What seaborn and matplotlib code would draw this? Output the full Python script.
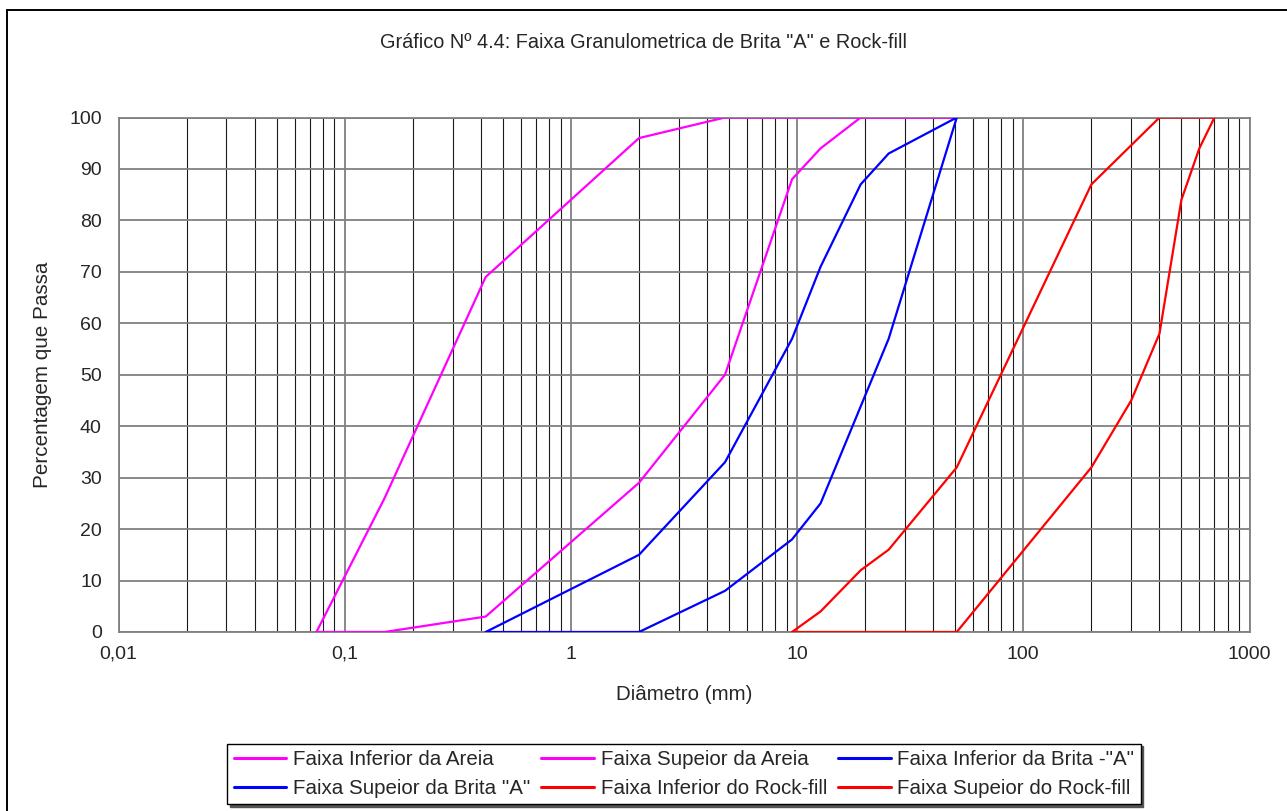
"""Faixa granulometrica de Brita "A" e Rock-fill (curvas em escala log)."""

import matplotlib
matplotlib.use("Agg")
import matplotlib.pyplot as plt
from matplotlib.patches import Rectangle
from matplotlib.ticker import FuncFormatter, LogLocator, NullFormatter
import pandas as pd
import seaborn as sns

W, H = 1287, 811

# diametros (mm) e percentagem que passa
areia_inf_d = [0.075, 0.15, 0.42, 2.0, 4.8, 9.5, 12.7, 19.1, 50.8]
areia_inf_p = [0, 0, 3, 29, 50, 88, 94, 100, 100]
areia_sup_d = [0.075, 0.15, 0.42, 2.0, 4.8, 50.8]
areia_sup_p = [0, 26, 69, 96, 100, 100]
brita_inf_d = [0.42, 2.0, 4.8, 9.5, 12.7, 25.4, 50.8]
brita_inf_p = [0, 0, 8, 18, 25, 57, 100]
brita_sup_d = [0.42, 2.0, 4.8, 9.5, 12.7, 19.1, 25.4, 50.8]
brita_sup_p = [0, 15, 33, 57, 71, 87, 93, 100]
rock_inf_d = [9.5, 50.8, 200, 300, 400, 500, 600, 700]
rock_inf_p = [0, 0, 32, 45, 58, 84, 94, 100]
rock_sup_d = [9.5, 12.7, 19.1, 25.4, 50.8, 200, 400, 700]
rock_sup_p = [0, 4, 12, 16, 32, 87, 100, 100]

series = [
    ('Faixa Inferior da Areia', areia_inf_d, areia_inf_p, '#FF00FF'),
    ('Faixa Supeior da Areia', areia_sup_d, areia_sup_p, '#FF00FF'),
    ('Faixa Inferior da Brita -"A"', brita_inf_d, brita_inf_p, '#0000FF'),
    ('Faixa Supeior da Brita "A"', brita_sup_d, brita_sup_p, '#0000FF'),
    ('Faixa Inferior do Rock-fill', rock_inf_d, rock_inf_p, '#FF0000'),
    ('Faixa Supeior do Rock-fill', rock_sup_d, rock_sup_p, '#FF0000'),
]
frame = pd.concat([pd.DataFrame({"serie": name, "d": d, "p": p}) for name, d, p, _ in series],
                  ignore_index=True)
names = [s[0] for s in series]
palette = {s[0]: s[3] for s in series}

sns.set_style("white")
plt.rcParams["font.family"] = ["Liberation Sans", "DejaVu Sans"]

fig = plt.figure(figsize=(W / 100, H / 100), dpi=100)
left, right, top, bottom = 118.5, 1249.5, 117.5, 632
ax = fig.add_axes([left / W, 1 - bottom / H, (right - left) / W, (bottom - top) / H])

sns.lineplot(data=frame, x="d", y="p", hue="serie", hue_order=names, palette=palette,
             sort=False, estimator=None, lw=1.6, ax=ax, zorder=3)

ax.set_xscale("log")
ax.set_xlim(0.01, 1000); ax.set_ylim(0, 100)
ax.set_yticks(range(0, 101, 10))
ax.xaxis.set_minor_locator(LogLocator(base=10, subs=range(2, 10)))
ax.xaxis.set_minor_formatter(NullFormatter())
ax.xaxis.set_major_formatter(FuncFormatter(lambda v, _: f"{v:g}".replace(".", ",")))
ax.grid(which="major", axis="both", color="#808080", lw=1.3)
ax.grid(which="minor", axis="x", color="#1a1a1a", lw=0.8)
ax.set_axisbelow(True)
ax.tick_params(axis="x", which="major", length=6, width=1.2, color="#808080", pad=4, labelsize=14)
ax.tick_params(axis="x", which="minor", length=0)
ax.tick_params(axis="y", length=0, pad=12, labelsize=14)
for s in ax.spines.values():
    s.set_color("#808080"); s.set_linewidth(1.3)
ax.set_xlabel(""); ax.set_ylabel("")

handles, labels = ax.get_legend_handles_labels()
ax.get_legend().remove()
order = [0, 3, 1, 4, 2, 5]
leg = fig.legend([handles[i] for i in order], [labels[i] for i in order], ncol=3,
                 loc="center", bbox_to_anchor=((222 + 1146) / 2 / W, 1 - (740 + 808) / 2 / H),
                 fontsize=14.8, frameon=True, fancybox=False, edgecolor="black", framealpha=1,
                 handlelength=2.55, handletextpad=0.33, columnspacing=0.55, labelspacing=0.5,
                 borderpad=0.3, shadow={"color": "#555555", "alpha": 1})
leg.get_frame().set_linewidth(1.0)
for line in leg.get_lines():
    line.set_linewidth(2.2)

fig.text(643 / W, 1 - 42 / H, 'Gráfico Nº 4.4: Faixa Granulometrica de Brita "A" e Rock-fill',
         ha="center", va="center", fontsize=14.3)
fig.text(43 / W, 1 - 375 / H, "Percentagem que Passa", rotation=90,
         ha="center", va="center", fontsize=14.9)
fig.text(684 / W, 1 - 695 / H, "Diâmetro (mm)", ha="center", va="center", fontsize=14.8)

fig.add_artist(Rectangle((7 / W, -0.1), 1.2, 1.1 - 10 / H, transform=fig.transFigure,
                         fill=False, ec="black", lw=1.4))

fig.savefig("out.png", dpi=100)
